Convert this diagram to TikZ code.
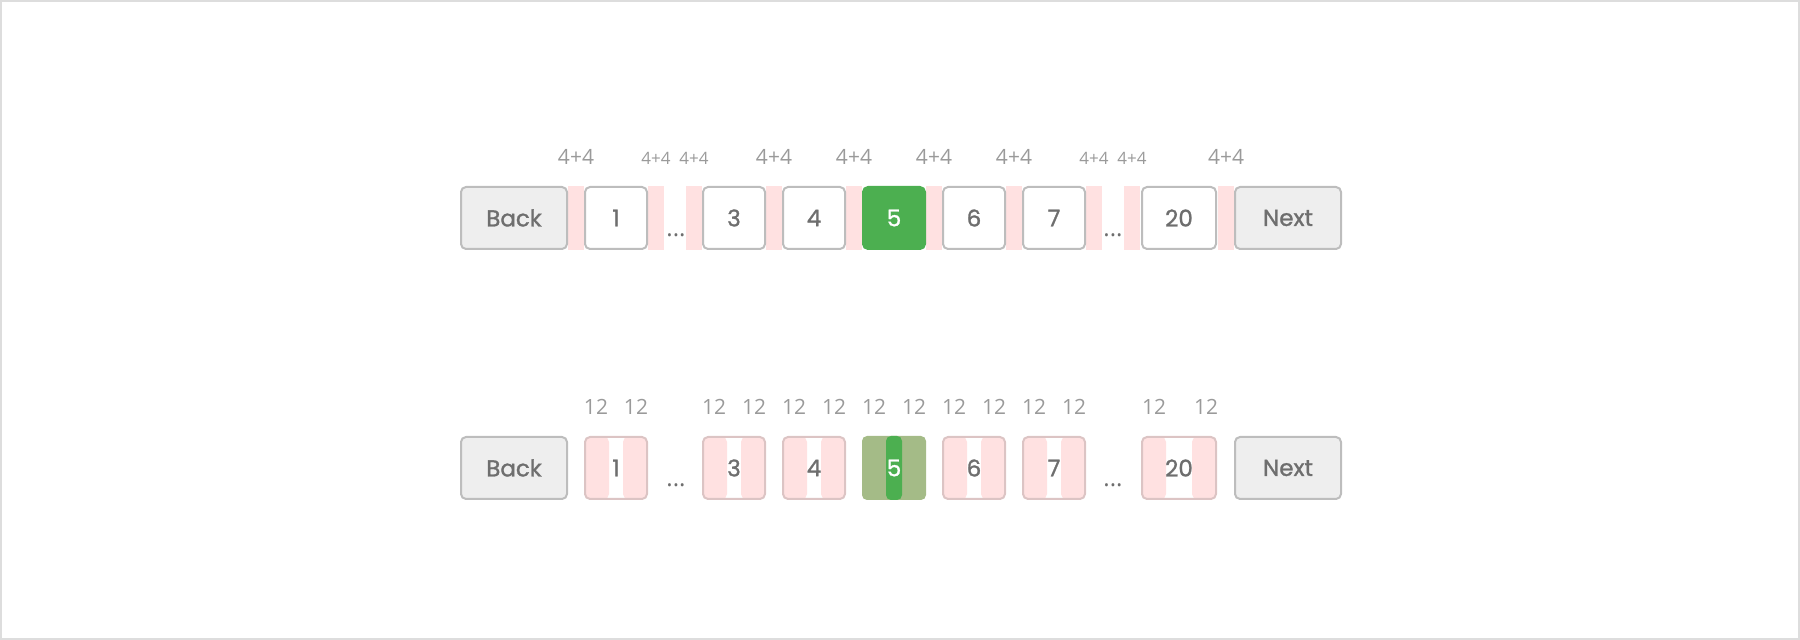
\documentclass[tikz,border=0pt]{standalone}
\usepackage{fontspec}
\setmainfont{Open Sans}
\newfontfamily\btnfont{Poppins}[FakeBold=1.2]
\usepackage{xcolor}
\usepackage{tikz}
\usetikzlibrary{positioning,calc}

\definecolor{btnborder}{HTML}{BDBDBD}
\definecolor{btnfill}{HTML}{EEEEEE}
\definecolor{btntext}{HTML}{6E6E6E}
\definecolor{padpink}{HTML}{FFE1E1}
\definecolor{padborder}{HTML}{DCC4C4}
\definecolor{curgreen}{HTML}{4CAF50}
\definecolor{curolive}{HTML}{A4BB87}
\definecolor{lbltext}{HTML}{9A9A9A}
\definecolor{framegray}{HTML}{DDDDDD}

\tikzset{
  pagebox/.style={draw=btnborder, fill=white, line width=1pt, rounded corners=2.5pt,
    minimum width=31pt, minimum height=31pt, inner sep=0pt, outer sep=0pt,
    text=btntext, font=\btnfont\fontsize{11.5}{12}\selectfont},
  navbox/.style={pagebox, fill=btnfill, minimum width=53pt},
  curbox/.style={pagebox, draw=curgreen, fill=curgreen, text=white},
  padbox/.style={pagebox, draw=padborder, path picture={
    \fill[padpink] (path picture bounding box.south west) rectangle ([xshift=12pt]path picture bounding box.north west);
    \fill[padpink] (path picture bounding box.south east) rectangle ([xshift=-12pt]path picture bounding box.north east);}},
  curpadbox/.style={pagebox, draw=none, fill=curolive, text=white, minimum width=32pt, minimum height=32pt, path picture={
    \fill[curgreen] ([xshift=-4pt]path picture bounding box.south) rectangle ([xshift=4pt]path picture bounding box.north);}},
  gapstrip/.style={fill=padpink},
  sizelbl/.style={text=lbltext, anchor=base, inner sep=0pt, font=\fontsize{10.5}{12}\selectfont},
  smalllbl/.style={sizelbl, font=\fontsize{8.5}{10}\selectfont},
  gapdots/.style={text=btntext, anchor=base, inner sep=0pt, font=\fontsize{12}{12}\selectfont}
}

\begin{document}
\begin{tikzpicture}[x=1pt,y=1pt,yscale=-1,xscale=1]
	\useasboundingbox (0,0) rectangle (900,320);

	%Shape: Rectangle [frame]
	\draw [framegray, line width=1pt] (0.5,0.5) rectangle (899.5,319.5);

	%%% Row 1: margins 4+4

	%Shape: Rectangle [gaps]
	\fill [gapstrip] (284,93) rectangle (292,125);
	\fill [gapstrip] (324,93) rectangle (332,125);
	\fill [gapstrip] (343,93) rectangle (351,125);
	\fill [gapstrip] (383,93) rectangle (391,125);
	\fill [gapstrip] (423,93) rectangle (431,125);
	\fill [gapstrip] (463,93) rectangle (471,125);
	\fill [gapstrip] (503,93) rectangle (511,125);
	\fill [gapstrip] (543,93) rectangle (551,125);
	\fill [gapstrip] (562,93) rectangle (570,125);
	\fill [gapstrip] (609,93) rectangle (617,125);

	% Buttons
	\node [navbox] (backA) at (257,109) {Back};
	\node [pagebox] (pgA1) at (308,109) {1};
	\node [pagebox] (pgA3) at (367,109) {3};
	\node [pagebox] (pgA4) at (407,109) {4};
	\node [curbox] (pgA5) at (447,109) {5};
	\node [pagebox] (pgA6) at (487,109) {6};
	\node [pagebox] (pgA7) at (527,109) {7};
	\node [pagebox, minimum width=37pt] (pgA20) at (589.5,109) {20};
	\node [navbox] (nextA) at (644,109) {Next};

	% Text Node
	\node [gapdots] (dotsA1) at (338,118.5) {...};
	\node [gapdots] (dotsA2) at (556.5,118.5) {...};

	% Text Node
	\node [sizelbl] (mA1) at (288,82.2) {4+4};
	\node [smalllbl] (mA2) at (328,82.2) {4+4};
	\node [smalllbl] (mA3) at (347,82.2) {4+4};
	\node [sizelbl] (mA4) at (387,82.2) {4+4};
	\node [sizelbl] (mA5) at (427,82.2) {4+4};
	\node [sizelbl] (mA6) at (467,82.2) {4+4};
	\node [sizelbl] (mA7) at (507,82.2) {4+4};
	\node [smalllbl] (mA8) at (547,82.2) {4+4};
	\node [smalllbl] (mA9) at (566,82.2) {4+4};
	\node [sizelbl] (mA10) at (613,82.2) {4+4};

	%%% Row 2: paddings 12

	% Buttons
	\node [navbox] (backB) at (257,234) {Back};
	\node [padbox] (pgB1) at (308,234) {1};
	\node [padbox] (pgB3) at (367,234) {3};
	\node [padbox] (pgB4) at (407,234) {4};
	\node [curpadbox] (pgB5) at (447,234) {5};
	\node [padbox] (pgB6) at (487,234) {6};
	\node [padbox] (pgB7) at (527,234) {7};
	\node [padbox, minimum width=37pt] (pgB20) at (589.5,234) {20};
	\node [navbox] (nextB) at (644,234) {Next};

	% Text Node
	\node [gapdots] (dotsB1) at (338,243.5) {...};
	\node [gapdots] (dotsB2) at (556.5,243.5) {...};

	% Text Node
	\node [sizelbl] (pB1l) at (298,207.5) {12};
	\node [sizelbl] (pB1r) at (318,207.5) {12};
	\node [sizelbl] (pB3l) at (357,207.5) {12};
	\node [sizelbl] (pB3r) at (377,207.5) {12};
	\node [sizelbl] (pB4l) at (397,207.5) {12};
	\node [sizelbl] (pB4r) at (417,207.5) {12};
	\node [sizelbl] (pB5l) at (437,207.5) {12};
	\node [sizelbl] (pB5r) at (457,207.5) {12};
	\node [sizelbl] (pB6l) at (477,207.5) {12};
	\node [sizelbl] (pB6r) at (497,207.5) {12};
	\node [sizelbl] (pB7l) at (517,207.5) {12};
	\node [sizelbl] (pB7r) at (537,207.5) {12};
	\node [sizelbl] (pB20l) at (577,207.5) {12};
	\node [sizelbl] (pB20r) at (603,207.5) {12};
\end{tikzpicture}
\end{document}
